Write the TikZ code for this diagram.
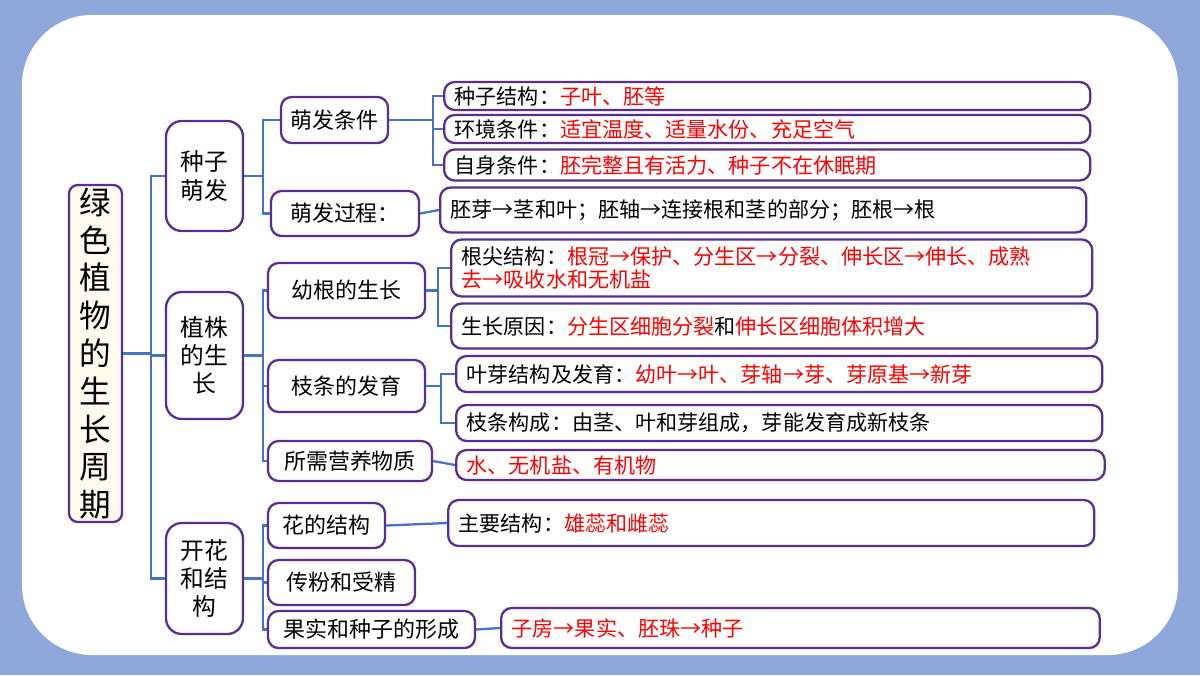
\documentclass[tikz,border=0pt]{standalone}
\usepackage{fontspec}
\setmainfont{Noto Sans CJK SC}
\definecolor{bgblue}{RGB}{143,168,220}
\definecolor{boxline}{RGB}{92,45,145}
\definecolor{linkblue}{RGB}{68,114,196}
\definecolor{cream}{RGB}{255,250,235}
\tikzset{
  box/.style={draw=boxline, line width=1.3pt, rounded corners=6pt, fill=white, inner sep=0pt, align=center},
  leaf/.style={box, anchor=west, align=left, inner xsep=6pt, font=\fontsize{12}{14}\selectfont},
  mid/.style={box, font=\fontsize{12.5}{15}\selectfont},
  big/.style={box, rounded corners=9pt, font=\fontsize{13.5}{16}\selectfont},
  link/.style={draw=linkblue, line width=1.3pt}
}
\newcommand{\hl}[1]{\textcolor{red}{#1}}
\begin{document}
\begin{tikzpicture}
  % background
  \fill[bgblue] (0,0) rectangle (24,-13.5);
  \fill[white, rounded corners=1.4cm] (0.44,-0.30) rectangle (23.56,-13.1);
  \useasboundingbox (0,0) rectangle (24,-13.5);

  % root and first level
  \node[box, fill=cream, rounded corners=5pt, minimum width=1.06cm, minimum height=6.74cm, font=\fontsize{18}{21.5}\selectfont] (root) at (1.91,-7.07) {绿\\色\\植\\物\\的\\生\\长\\周\\期};
  \node[big, minimum width=1.54cm, minimum height=2.2cm] (zz) at (4.09,-3.52) {种子\\萌发};
  \node[big, minimum width=1.54cm, minimum height=2.54cm] (zw) at (4.09,-7.11) {植株\\的生\\长};
  \node[big, minimum width=1.54cm, minimum height=2.22cm] (kh) at (4.09,-11.57) {开花\\和结\\构};

  % second level
  \node[mid, minimum width=2.14cm, minimum height=0.92cm] (mt) at (6.69,-2.40) {萌发条件};
  \node[mid, minimum width=2.96cm, minimum height=0.9cm] (mg) at (6.90,-4.27) {萌发过程：};
  \node[mid, minimum width=3.14cm, minimum height=1.1cm] (yg) at (6.93,-5.81) {幼根的生长};
  \node[mid, minimum width=3.14cm, minimum height=1.04cm] (zt) at (6.93,-7.72) {枝条的发育};
  \node[mid, minimum width=3.28cm, minimum height=0.8cm] (sx) at (7.00,-9.22) {所需营养物质};
  \node[mid, minimum width=2.34cm, minimum height=0.9cm] (hj) at (6.53,-10.51) {花的结构};
  \node[mid, minimum width=2.94cm, minimum height=0.9cm] (cf) at (6.83,-11.65) {传粉和受精};
  \node[mid, minimum width=4.14cm, minimum height=0.74cm] (gs) at (7.43,-12.59) {果实和种子的形成};

  % third level
  \node[leaf, text width=12.5cm, minimum height=0.56cm] (kz) at (8.86,-1.92) {种子结构：\hl{子叶、胚等}};
  \node[leaf, text width=12.5cm, minimum height=0.56cm] (hc) at (8.86,-2.58) {环境条件：\hl{适宜温度、适量水份、充足空气}};
  \node[leaf, text width=12.5cm, minimum height=0.62cm] (zs) at (8.86,-3.30) {自身条件：\hl{胚完整且有活力、种子不在休眠期}};
  \node[leaf, text width=12.5cm, minimum height=0.9cm] (pj) at (8.78,-4.20) {胚芽→茎和叶；胚轴→连接根和茎的部分；胚根→根};
  \node[leaf, text width=12.4cm, minimum height=1.14cm, font=\fontsize{12}{13}\selectfont] (gj) at (9.00,-5.36) {根尖结构：\hl{根冠→保护、分生区→分裂、伸长区→伸长、成熟}\\\hl{去→吸收水和无机盐}};
  \node[leaf, text width=12.5cm, minimum height=0.9cm] (sy) at (9.00,-6.52) {生长原因：\hl{分生区细胞分裂}和\hl{伸长区细胞体积增大}};
  \node[leaf, text width=12.5cm, minimum height=0.72cm] (yy) at (9.10,-7.48) {叶芽结构及发育：\hl{幼叶→叶、芽轴→芽、芽原基→新芽}};
  \node[leaf, text width=12.5cm, minimum height=0.72cm] (zg) at (9.10,-8.46) {枝条构成：由茎、叶和芽组成，芽能发育成新枝条};
  \node[leaf, text width=12.55cm, minimum height=0.6cm] (sw) at (9.10,-9.30) {\hl{水、无机盐、有机物}};
  \node[leaf, text width=12.5cm, minimum height=0.92cm] (zj) at (8.94,-10.46) {主要结构：\hl{雄蕊和雌蕊}};
  \node[leaf, text width=11.55cm, minimum height=0.8cm] (zf) at (10.0,-12.56) {\hl{子房→果实、胚珠→种子}};

  % connectors
  \draw[link] (root.east) -- ++(0.56,0) |- (zz.west);
  \draw[link] (root.east) -- ++(0.56,0) |- (zw.west);
  \draw[link] (root.east) -- ++(0.56,0) |- (kh.west);
  \foreach \c in {mt,mg} \draw[link] (zz.east) -- ++(0.38,0) |- (\c.west);
  \foreach \c in {yg,zt,sx} \draw[link] (zw.east) -- ++(0.38,0) |- (\c.west);
  \foreach \c in {hj,cf,gs} \draw[link] (kh.east) -- ++(0.38,0) |- (\c.west);
  \foreach \c in {kz,hc,zs} \draw[link] (mt.east) -- ++(0.88,0) |- (\c.west);
  \foreach \c in {gj,sy} \draw[link] (yg.east) -- ++(0.24,0) |- (\c.west);
  \foreach \c in {yy,zg} \draw[link] (zt.east) -- ++(0.3,0) |- (\c.west);
  \draw[link] (mg.east) -- (pj.west);
  \draw[link] (sx.east) -- (sw.west);
  \draw[link] (hj.east) -- (zj.west);
  \draw[link] (gs.east) -- (zf.west);
\end{tikzpicture}
\end{document}
